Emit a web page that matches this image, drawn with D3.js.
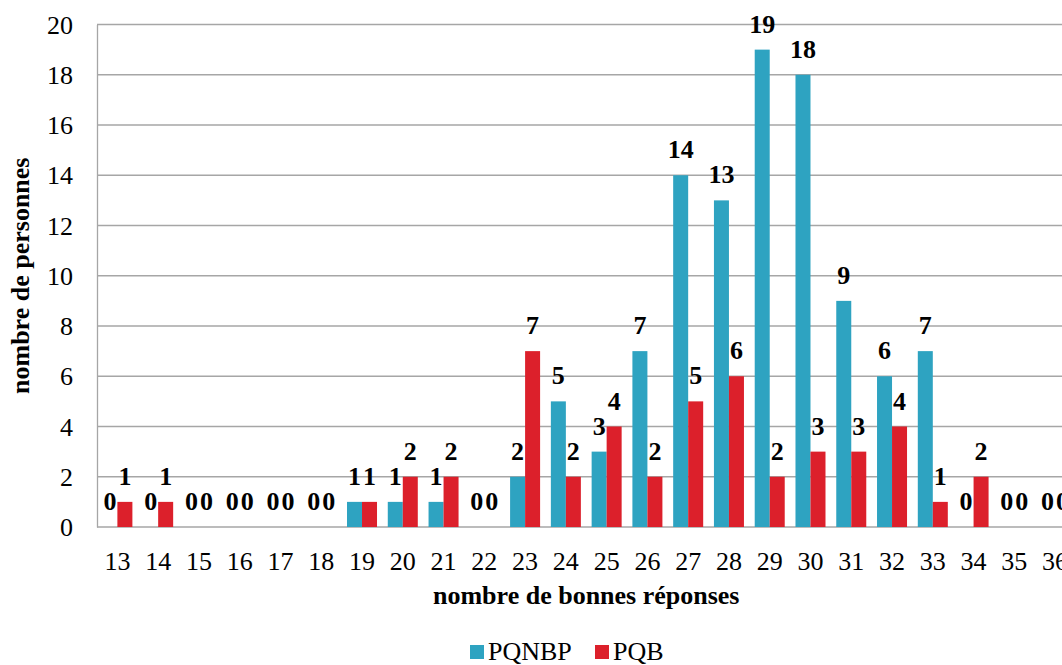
<!DOCTYPE html>
<html><head><meta charset="utf-8">
<script src="https://cdn.jsdelivr.net/npm/d3@7"></script>
<style>
html,body{margin:0;padding:0;background:#fff;overflow:hidden;}
svg{display:block;}
svg text{font-family:"Liberation Serif","Times New Roman",Times,serif !important;}
</style></head>
<body>
<script>
const categories = ["13","14","15","16","17","18","19","20","21","22","23","24","25","26","27","28","29","30","31","32","33","34","35","36"];
const seriesNames = ["PQNBP","PQB"];
const pqnbp = [0,0,0,0,0,0,1,1,1,0,2,5,3,7,14,13,19,18,9,6,7,0,0,0];
const pqb   = [1,1,0,0,0,0,1,2,2,0,7,2,4,2,5,6,2,3,3,4,1,2,0,0];
const yTicks = [0,2,4,6,8,10,12,14,16,18,20];
const colors = ["#2ea3c1","#dc202b"];
const xTitle = "nombre de bonnes réponses";
const yTitle = "nombre de personnes";

const W = 1062, H = 665;
const mLeft = 97, mTop = 24.5, plotW = 978.5, plotH = 502.5;
const fs = 26;

const svg = d3.select("body").append("svg").attr("width", W).attr("height", H);
const g = svg.append("g").attr("transform", `translate(${mLeft},${mTop})`);

const x0 = d3.scaleBand().domain(categories).range([0, plotW]).paddingInner(0.264).paddingOuter(0.132);
const x1 = d3.scaleBand().domain(seriesNames).range([0, x0.bandwidth()]);
const y = d3.scaleLinear().domain([0, 20]).range([plotH, 0]);

// grid
g.selectAll("line.grid").data(yTicks.filter(d => d > 0)).enter().append("line")
  .attr("x1", 0).attr("x2", plotW + 20)
  .attr("y1", d => y(d)).attr("y2", d => y(d))
  .attr("stroke", "#a6a6a6").attr("stroke-width", 1.3);

// y axis
const yAxis = g.append("g").call(d3.axisLeft(y).tickValues(yTicks).tickSize(0).tickPadding(24).tickFormat(d3.format("d")));
yAxis.select(".domain").attr("stroke", "#a6a6a6").attr("stroke-width", 1.3);
yAxis.selectAll("text").attr("font-size", fs).attr("fill", "#000").attr("dy", "0.33em");

// x axis
const xAxis = g.append("g").attr("transform", `translate(0,${plotH})`)
  .call(d3.axisBottom(x0).tickSize(0));
xAxis.select(".domain").remove();
g.append("line").attr("x1", 0).attr("x2", plotW + 20).attr("y1", plotH).attr("y2", plotH)
  .attr("stroke", "#a6a6a6").attr("stroke-width", 1.3);
xAxis.selectAll("text").attr("font-size", fs).attr("fill", "#000").attr("y", 43).attr("dy", 0);

const rows = categories.map((c, i) => ({cat: c, vals: [pqnbp[i], pqb[i]]}));
const groups = g.selectAll("g.cat").data(rows).enter().append("g")
  .attr("transform", d => `translate(${x0(d.cat)},0)`);

groups.selectAll("rect").data(d => d.vals.map((v, k) => ({v, k}))).enter().append("rect")
  .attr("x", d => x1(seriesNames[d.k]))
  .attr("width", x1.bandwidth())
  .attr("y", d => y(d.v))
  .attr("height", d => plotH - y(d.v))
  .attr("fill", d => colors[d.k]);

groups.selectAll("text.lbl").data(d => d.vals.map((v, k) => ({v, k}))).enter().append("text")
  .attr("x", d => x1(seriesNames[d.k]) + x1.bandwidth() / 2)
  .attr("y", d => y(d.v) - 17)
  .attr("text-anchor", "middle")
  .attr("font-size", fs).attr("font-weight", "bold")
  .text(d => d.v);

// axis titles
svg.append("text").attr("x", mLeft + plotW / 2).attr("y", 604)
  .attr("text-anchor", "middle").attr("font-size", fs).attr("font-weight", "bold")
  .text(xTitle);
svg.append("text").attr("transform", `translate(29,${mTop + plotH / 2}) rotate(-90)`)
  .attr("text-anchor", "middle").attr("font-size", fs).attr("font-weight", "bold")
  .text(yTitle);

// legend
const legend = svg.append("g");
const legX = [470, 595];
seriesNames.forEach((s, k) => {
  legend.append("rect").attr("x", legX[k]).attr("y", 645).attr("width", 14).attr("height", 14).attr("fill", colors[k]);
  legend.append("text").attr("x", legX[k] + 18).attr("y", 660)
    .attr("font-size", fs).attr("fill", "#000").text(s);
});
</script>
</body></html>
